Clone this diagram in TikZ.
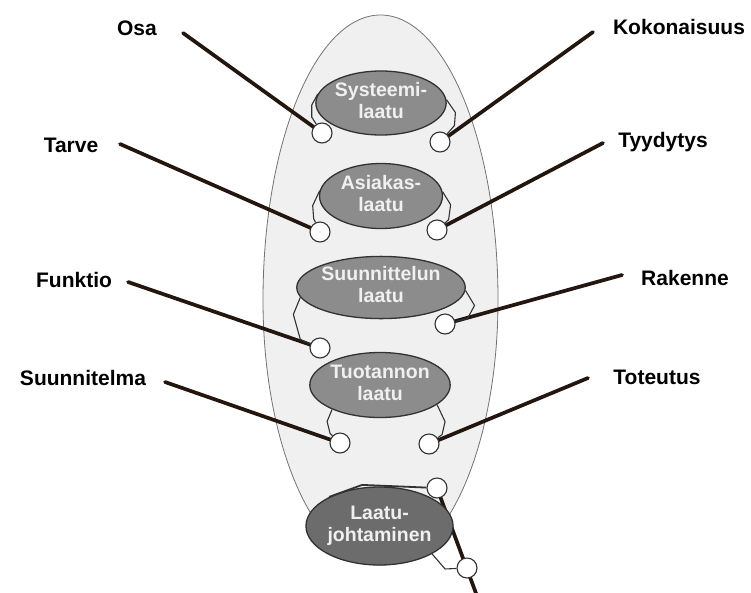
\documentclass[tikz,border=0pt]{standalone}
\usepackage{fontspec}
\setmainfont{Liberation Sans}
\usetikzlibrary{shapes.geometric}
\definecolor{thick}{RGB}{35,22,14}
\definecolor{outer}{RGB}{240,240,240}
\definecolor{egray}{RGB}{140,140,140}
\definecolor{edark}{RGB}{108,108,108}
\definecolor{edge}{RGB}{50,50,50}
\newcommand{\twoline}[3]{\raisebox{#1}{\begin{tabular}{@{}c@{}}#2\\#3\end{tabular}}}
\begin{document}
\begin{tikzpicture}[x=1pt,y=-1pt,
  lab/.style={font=\fontsize{21}{24}\selectfont\bfseries, text=black, inner sep=0pt},
  qual/.style={ellipse, draw=edge, line width=1.3pt, fill=egray, inner sep=0pt,
     minimum width=122pt, minimum height=64pt, align=center, text=white!94!black,
     font=\fontsize{19.5}{22}\selectfont\bfseries},
  pin/.style={circle, draw=edge, line width=1.1pt, fill=white, minimum size=20pt, inner sep=0pt},
  spoke/.style={draw=thick, line width=3.7pt, line cap=round},
  hookline/.style={draw=edge, line width=1.1pt}]
\useasboundingbox (0,0) rectangle (751,592);
\fill[white] (0,0) rectangle (751,592);
% outer egg-shaped region
\path[draw=black!55, line width=0.8pt, fill=outer]
  (263,300) arc[start angle=180, end angle=360, x radius=117.5, y radius=285]
  arc[start angle=0, end angle=180, x radius=117.5, y radius=265] -- cycle;
% labels
\node[lab] (osa) at (137,28) {Osa};
\node[lab] (tarve) at (71,145) {Tarve};
\node[lab] (funktio) at (74,280) {Funktio};
\node[lab] (suunnitelma) at (83,378) {Suunnitelma};
\node[lab] (kokonaisuus) at (679,27) {Kokonaisuus};
\node[lab] (tyydytys) at (663,142) {Tyydytys};
\node[lab] (rakenne) at (685,278) {Rakenne};
\node[lab] (toteutus) at (657,377) {Toteutus};
% line start points next to labels
\coordinate (osaE) at (183,33);
\coordinate (tarveE) at (120,144);
\coordinate (funktioE) at (128,282);
\coordinate (suunnitelmaE) at (165,382);
\coordinate (kokonaisuusE) at (593,32);
\coordinate (tyydytysE) at (603,143);
\coordinate (rakenneE) at (622,275);
\coordinate (toteutusE) at (588,378);
\coordinate (tail) at (477,596);
% pins (positions)
\coordinate (p1l) at (322,133);
\coordinate (p1r) at (440,142);
\coordinate (p2l) at (320,232);
\coordinate (p2r) at (437,230);
\coordinate (p3l) at (320,348);
\coordinate (p3r) at (445,324);
\coordinate (p4l) at (340,443);
\coordinate (p4r) at (429,444);
\coordinate (p5t) at (437,488);
\coordinate (p5b) at (467,568);
% spokes
\draw[spoke] (osaE) -- (p1l);
\draw[spoke] (tarveE) -- (p2l);
\draw[spoke] (funktioE) -- (p3l);
\draw[spoke] (suunnitelmaE) -- (p4l);
\draw[spoke] (kokonaisuusE) -- (p1r);
\draw[spoke] (tyydytysE) -- (p2r);
\draw[spoke] (rakenneE) -- (p3r);
\draw[spoke] (toteutusE) -- (p4r);
\draw[spoke] (p5t) -- (tail);
% quality ellipses
\node[qual] (sys) at (381,103) {\twoline{-2pt}{Systeemi-}{laatu}};
\node[qual, minimum width=123pt, minimum height=65pt] (asi) at (381,196) {\twoline{0pt}{Asiakas-}{laatu}};
\node[qual, minimum width=138pt, minimum height=62pt] (suu) at (381,287.5) {\twoline{-5pt}{Suunnittelun}{laatu}};
\node[qual, minimum height=65pt] (tuo) at (380,385) {\twoline{-4pt}{Tuotannon}{laatu}};
\node[qual, fill=edark, minimum width=135pt, minimum height=78pt] (lj) at (379.5,526) {\twoline{-1pt}{Laatu-}{johtaminen}};
% pin circles
\foreach \p in {p1l,p1r,p2l,p2r,p3l,p3r,p4l,p4r,p5t,p5b}
  \node[pin] (c\p) at (\p) {};
% hooks
\draw[hookline] (sys.172) -- ++(-6,11) -- ++(0,12) -- (cp1l);
\draw[hookline] (sys.3) -- ++(9,13) -- ++(-1,13) -- (cp1r);
\draw[hookline] (asi.175) -- ++(-7,15) -- ++(1,13) -- (cp2l);
\draw[hookline] (asi.4) -- ++(8,13) -- ++(-2,15) -- (cp2r);
\draw[hookline] (suu.187) -- ++(-7,17) -- ++(7,25) -- (cp3l);
\draw[hookline] (suu.358) -- ++(9,15) -- ++(-7,13) -- (cp3r);
\draw[hookline] (tuo.207) -- ++(-5,12) -- ++(3,12) -- (cp4l);
\draw[hookline] (tuo.341) -- ++(8,17) -- ++(-3,13) -- (cp4r);
\draw[hookline, line width=1.8pt] (lj.150) -- ++(33,-12) -- (cp5t);
\draw[hookline] (lj.332) -- ++(13,15) -- (cp5b);
\end{tikzpicture}
\end{document}
